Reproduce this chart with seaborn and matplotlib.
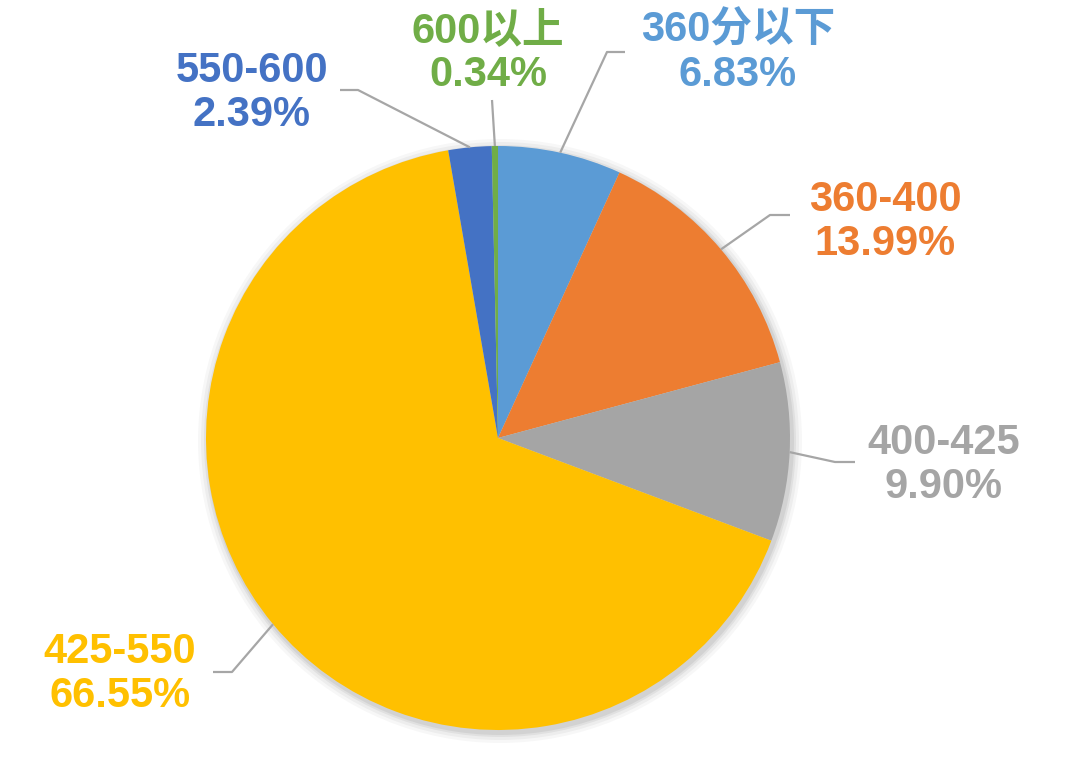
import numpy as np
import matplotlib
matplotlib.use("Agg")
import matplotlib.pyplot as plt
import seaborn as sns
from matplotlib.patches import Circle

# data
labels = ["360分以下", "360-400", "400-425", "425-550", "550-600", "600以上"]
shares = [6.83, 13.99, 9.90, 66.55, 2.39, 0.34]
colors = ["#5B9BD5", "#ED7D31", "#A5A5A5", "#FFC000", "#4472C4", "#70AD47"]

sns.set_theme(style="white")
plt.rcParams['font.family'] = ['Liberation Sans', 'Noto Sans CJK SC', 'DejaVu Sans']

W, H = 1080, 763
fig = plt.figure(figsize=(10.8, 7.63), dpi=100)
ax = fig.add_axes([0, 0, 1, 1])
ax.set_xlim(0, W)
ax.set_ylim(0, H)
ax.set_aspect("equal")
ax.axis("off")

def py(y):
    # top-down pixel row -> axes y
    return H - y

cx, cy, r = 498, py(438), 292

# soft shadow behind the pie
for k, a in [(10, 0.03), (7, 0.04), (4, 0.05), (2, 0.06)]:
    ax.add_patch(Circle((cx + 2, cy - 3), r + k, color="#000000", alpha=a, lw=0, zorder=0))

wedges, _ = ax.pie(shares, colors=colors, startangle=90, counterclock=False,
                   center=(cx, cy), radius=r, frame=True,
                   wedgeprops=dict(linewidth=0))
ax.set_xlim(0, W)
ax.set_ylim(0, H)
ax.axis("off")

# label layout: elbow point, line end, text centre (top-down pixels)
layout = {
    "360分以下": ((607, 52), (625, 52), (738, 53)),
    "360-400": ((770, 215), (790, 215), (885, 222)),
    "400-425": ((835, 462), (855, 462), (944, 465)),
    "425-550": ((232, 672), (213, 672), (120, 674)),
    "550-600": ((358, 90), (340, 90), (252, 93)),
    "600以上": ((492, 100), (492, 100), (488, 53)),
}

for w, lab, val, col in zip(wedges, labels, shares, colors):
    mid = np.deg2rad((w.theta1 + w.theta2) / 2)
    sx, sy = cx + r * np.cos(mid), cy + r * np.sin(mid)
    (ex, ey), (tx, ty), (lx, ly) = layout[lab]
    ax.plot([sx, ex, tx], [sy, py(ey), py(ty)], color="#A6A6A6", lw=1.6, zorder=3,
            solid_capstyle="butt")
    ax.text(lx, py(ly), f"{lab}\n{val:.2f}%", color=col, fontsize=30,
            fontweight="bold", ha="center", va="center", multialignment="center",
            linespacing=1.15)

fig.savefig("out.png", dpi=100, facecolor="white")
